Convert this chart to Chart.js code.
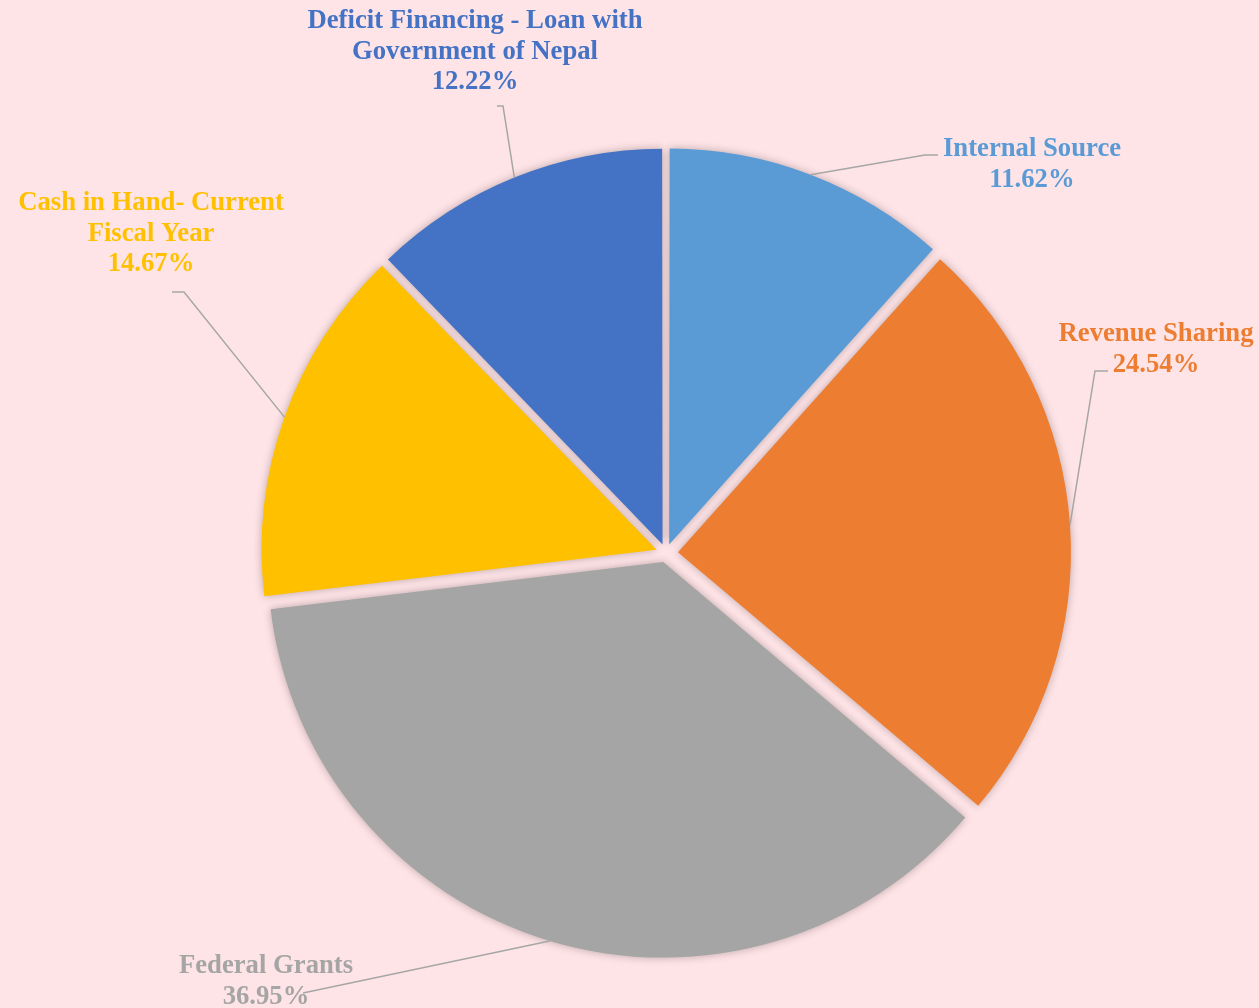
<!DOCTYPE html>
<html>
<head>
<meta charset="utf-8">
<script src="https://cdn.jsdelivr.net/npm/chart.js@4/dist/chart.umd.min.js"></script>
<style>
  html, body { margin: 0; padding: 0; background: #FFE4E7; }
  #wrap { width: 1259px; height: 1008px; }
</style>
</head>
<body>
<div id="wrap"><canvas id="c" width="1259" height="1008"></canvas></div>
<script>
// ---- data ----
const categories = [
  'Internal Source',
  'Revenue Sharing',
  'Federal Grants',
  'Cash in Hand- Current Fiscal Year',
  'Deficit Financing - Loan with Government of Nepal'
];
const shares = [11.62, 24.54, 36.95, 14.67, 12.22];
const labelLines = [
  ['Internal Source'],
  ['Revenue Sharing'],
  ['Federal Grants'],
  ['Cash in Hand- Current', 'Fiscal Year'],
  ['Deficit Financing - Loan with', 'Government of Nepal']
];

// ---- style / layout ----
const colors = ['#5B9BD5', '#ED7D31', '#A5A5A5', '#FFC000', '#4472C4'];
const explode = 12;      // px each slice is pulled out
const pieRadius = 393;
const fontSize = 26.7;
const lineGap = 30.5;
// label anchor: centre x, first baseline y, and leader path (label side)
const labelLayout = [
  { x: 1032, y: 156, path: [[938, 155], [925, 155]] },
  { x: 1156, y: 341, path: [[1108, 371], [1095, 371]] },
  { x: 266,  y: 973, path: [[303, 993]] },
  { x: 151,  y: 210, path: [[172, 292], [184, 292]] },
  { x: 475,  y: 28,  path: [[497, 106], [503, 106]] }
];

const total = shares.reduce((a, b) => a + b, 0);

const labelPlugin = {
  id: 'pieLabels',
  beforeDatasetsDraw(chart) {
    const ctx = chart.ctx;
    ctx.save();
    ctx.shadowColor = 'rgba(0,0,0,0.28)';
    ctx.shadowBlur = 9;
    ctx.shadowOffsetX = 0;
    ctx.shadowOffsetY = 0;
  },
  afterDatasetsDraw(chart) {
    const ctx = chart.ctx;
    ctx.restore();
    const meta = chart.getDatasetMeta(0);
    meta.data.forEach((arc, i) => {
      const mid = (arc.startAngle + arc.endAngle) / 2;
      const r = arc.outerRadius + explode;
      const px = arc.x + Math.cos(mid) * r;
      const py = arc.y + Math.sin(mid) * r;
      const lay = labelLayout[i];
      ctx.save();
      ctx.strokeStyle = '#A6A6A6';
      ctx.lineWidth = 1.5;
      ctx.beginPath();
      lay.path.forEach((p, k) => { if (k === 0) ctx.moveTo(p[0], p[1]); else ctx.lineTo(p[0], p[1]); });
      ctx.lineTo(px, py);
      ctx.stroke();
      ctx.restore();

      ctx.save();
      ctx.fillStyle = colors[i];
      ctx.font = 'bold ' + fontSize + 'px "Liberation Serif", "Times New Roman", serif';
      ctx.textAlign = 'center';
      ctx.textBaseline = 'alphabetic';
      const lines = labelLines[i].concat([shares[i].toFixed(2) + '%']);
      lines.forEach((t, k) => ctx.fillText(t, lay.x, lay.y + k * lineGap));
      ctx.restore();
    });
  }
};

new Chart(document.getElementById('c'), {
  type: 'pie',
  data: {
    labels: categories,
    datasets: [{
      data: shares,
      backgroundColor: colors,
      borderWidth: 0,
      radius: pieRadius,
      offset: (c) => {
        const v = shares[c.dataIndex];
        const circ = v / total * 2 * Math.PI;
        const fix = 1 - Math.sin(Math.min(Math.PI, circ));
        return 4 * explode / (1 + fix);
      }
    }]
  },
  options: {
    responsive: false,
    animation: false,
    events: [],
    layout: { padding: { left: 73, top: 98, right: 0, bottom: 0 } },
    plugins: {
      legend: { display: false },
      tooltip: { enabled: false },
      title: { display: false }
    }
  },
  plugins: [labelPlugin]
});
</script>
</body>
</html>
